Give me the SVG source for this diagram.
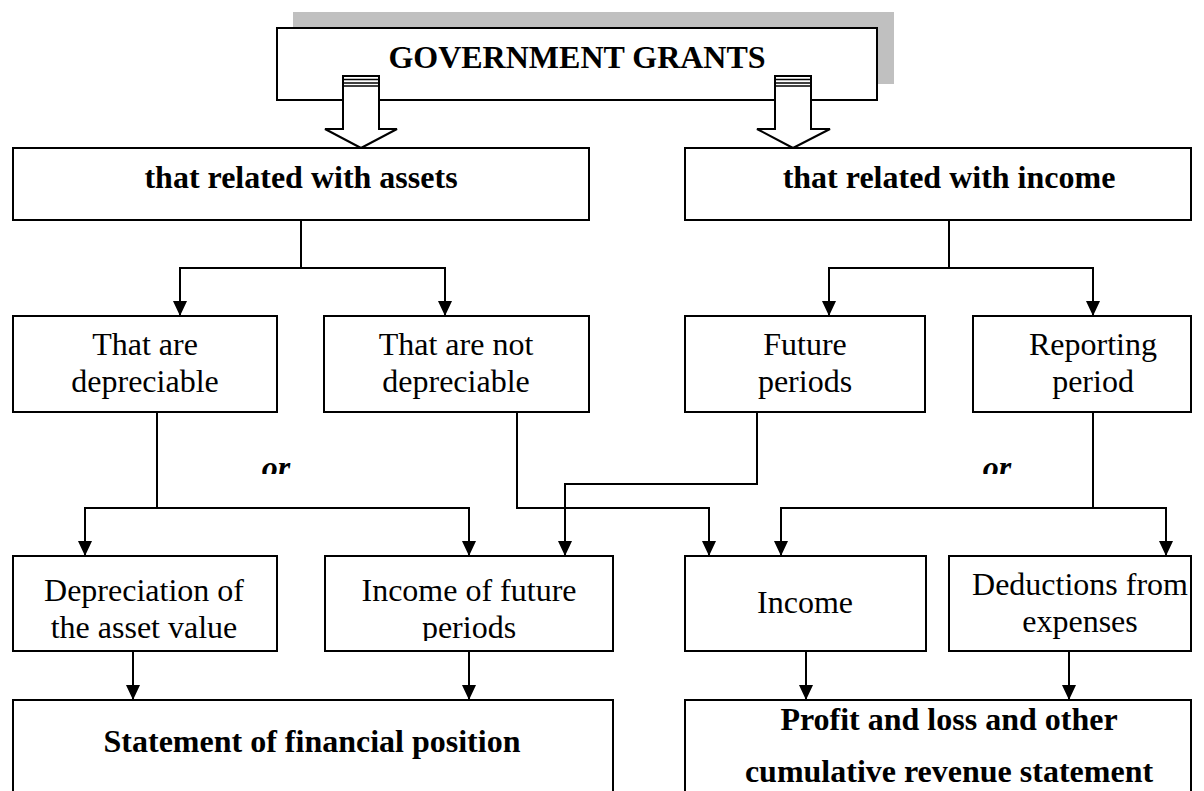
<svg xmlns="http://www.w3.org/2000/svg" width="1204" height="791" viewBox="0 0 1204 791">
  <style>
    .box { fill: #fff; stroke: #000; stroke-width: 2; }
    .hollow { fill: #fff; stroke: #000; stroke-width: 2; stroke-linejoin: miter; }
    .stripe { stroke: #000; stroke-width: 1.5; }
    .t { font-family: "Liberation Serif", "Times New Roman", serif; font-size: 32px; fill: #000; text-anchor: middle; }
    .b { font-weight: bold; }
    .bi { font-weight: bold; font-style: italic; }
    .conn path { fill: none; stroke: #000; stroke-width: 2; }
  </style>
  <defs>
    <marker id="arrow" markerUnits="userSpaceOnUse" markerWidth="15" markerHeight="14" refX="15" refY="7" orient="auto">
      <path d="M0,0 L15,7 L0,14 Z" fill="#000"/>
    </marker>
    <clipPath id="clipOrL"><rect x="240" y="440" width="80" height="34"/></clipPath>
    <clipPath id="clipOrR"><rect x="960" y="440" width="80" height="34"/></clipPath>
    <clipPath id="clipPeriods"><rect x="330" y="560" width="280" height="81"/></clipPath>
  </defs>

  <!-- title block with its grey shadow -->
  <g id="government-grants">
    <rect x="293" y="12" width="601" height="72" fill="#c0c0c0"/>
    <rect class="box" x="277" y="28" width="600" height="72"/>
    <text class="t b" x="577" y="68">GOVERNMENT GRANTS</text>
  </g>

  <!-- striped block arrows leading out of the title -->
  <g id="block-arrows">
    <path class="hollow" d="M343,76 H379 V129 H397 L361,148 L325,129 H343 Z"/>
    <line class="stripe" x1="343" y1="79.5" x2="379" y2="79.5"/>
    <line class="stripe" x1="343" y1="83" x2="379" y2="83"/>
    <line class="stripe" x1="343" y1="86" x2="379" y2="86"/>
    <path class="hollow" d="M775,76 H811 V129 H830 L793,148 L757,129 H775 Z"/>
    <line class="stripe" x1="775" y1="79.5" x2="811" y2="79.5"/>
    <line class="stripe" x1="775" y1="83" x2="811" y2="83"/>
    <line class="stripe" x1="775" y1="86" x2="811" y2="86"/>
  </g>

  <g id="assets">
    <rect class="box" x="13" y="148" width="576" height="72"/>
    <text class="t b" x="301" y="188">that related with assets</text>
  </g>
  <g id="income-related">
    <rect class="box" x="685" y="148" width="506" height="72"/>
    <text class="t b" x="949" y="188">that related with income</text>
  </g>

  <g id="depreciable">
    <rect class="box" x="13" y="316" width="264" height="96"/>
    <text class="t" x="145" y="355">That are</text>
    <text class="t" x="145" y="392">depreciable</text>
  </g>
  <g id="not-depreciable">
    <rect class="box" x="324" y="316" width="265" height="96"/>
    <text class="t" x="456" y="355">That are not</text>
    <text class="t" x="456" y="392">depreciable</text>
  </g>
  <g id="future-periods">
    <rect class="box" x="685" y="316" width="240" height="96"/>
    <text class="t" x="805" y="355">Future</text>
    <text class="t" x="805" y="392">periods</text>
  </g>
  <g id="reporting-period">
    <rect class="box" x="973" y="316" width="218" height="96"/>
    <text class="t" x="1093" y="355">Reporting</text>
    <text class="t" x="1093" y="392">period</text>
  </g>

  <g id="or-left">
    <text class="t bi" x="276" y="478" clip-path="url(#clipOrL)">or</text>
  </g>
  <g id="or-right">
    <text class="t bi" x="997" y="478" clip-path="url(#clipOrR)">or</text>
  </g>

  <g id="depreciation">
    <rect class="box" x="13" y="556" width="264" height="95"/>
    <text class="t" x="144" y="601">Depreciation of</text>
    <text class="t" x="144" y="638">the asset value</text>
  </g>
  <g id="income-future">
    <rect class="box" x="325" y="556" width="288" height="95"/>
    <text class="t" x="469" y="601">Income of future</text>
    <text class="t" x="469" y="638" clip-path="url(#clipPeriods)">periods</text>
  </g>
  <g id="income">
    <rect class="box" x="685" y="556" width="241" height="95"/>
    <text class="t" x="805" y="613">Income</text>
  </g>
  <g id="deductions">
    <rect class="box" x="949" y="556" width="242" height="95"/>
    <text class="t" x="1080" y="595">Deductions from</text>
    <text class="t" x="1080" y="632">expenses</text>
  </g>

  <g id="financial-position">
    <rect class="box" x="13" y="700" width="600" height="110"/>
    <text class="t b" x="312" y="752">Statement of financial position</text>
  </g>
  <g id="profit-loss">
    <rect class="box" x="685" y="700" width="506" height="110"/>
    <text class="t b" x="949" y="730">Profit and loss and other</text>
    <text class="t b" x="949" y="782">cumulative revenue statement</text>
  </g>

  <!-- connectors -->
  <g class="conn" id="connectors">
    <path d="M301,220 V268 H180 V316" marker-end="url(#arrow)"/>
    <path d="M301,268 H445 V316" marker-end="url(#arrow)"/>
    <path d="M949,220 V268 H829 V316" marker-end="url(#arrow)"/>
    <path d="M949,268 H1093 V316" marker-end="url(#arrow)"/>
    <path d="M157,412 V508 H85 V556" marker-end="url(#arrow)"/>
    <path d="M157,508 H469 V556" marker-end="url(#arrow)"/>
    <path d="M517,412 V508 H709 V556" marker-end="url(#arrow)"/>
    <path d="M757,412 V484 H565 V556" marker-end="url(#arrow)"/>
    <path d="M1093,412 V508 H781 V556" marker-end="url(#arrow)"/>
    <path d="M1093,508 H1166 V556" marker-end="url(#arrow)"/>
    <path d="M133,651 V700" marker-end="url(#arrow)"/>
    <path d="M469,651 V700" marker-end="url(#arrow)"/>
    <path d="M806,651 V700" marker-end="url(#arrow)"/>
    <path d="M1069,651 V700" marker-end="url(#arrow)"/>
  </g>
</svg>
